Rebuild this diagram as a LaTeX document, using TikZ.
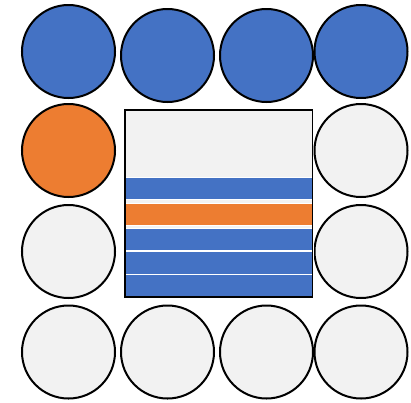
\documentclass[tikz,border=0pt]{standalone}
\usepackage{tikz}
\definecolor{cblue}{HTML}{4472C4}
\definecolor{corange}{HTML}{ED7D31}
\definecolor{cgrey}{HTML}{F2F2F2}

\begin{document}
\begin{tikzpicture}[x=1pt,y=-1pt,
  ball/.style={circle,draw=black,line width=2pt,minimum size=93pt,inner sep=0pt},
  blueball/.style={ball,fill=cblue},
  orangeball/.style={ball,fill=corange},
  greyball/.style={ball,fill=cgrey},
  stripe/.style={draw=white,line width=0.8pt}]
\useasboundingbox (0,0) rectangle (411,402);
% top row
\node[blueball] (t1) at (68.5,51.5) {};
\node[blueball] (t2) at (167.5,55.5) {};
\node[blueball] (t3) at (266.5,55.5) {};
\node[blueball] (t4) at (361,51.5) {};
% sides
\node[orangeball] (l1) at (68.5,150.5) {};
\node[greyball] (l2) at (68.5,251.5) {};
\node[greyball] (r1) at (361,150.5) {};
\node[greyball] (r2) at (361,251.5) {};
% bottom row
\node[greyball] (b1) at (68.5,352) {};
\node[greyball] (b2) at (167.5,352) {};
\node[greyball] (b3) at (266.5,352) {};
\node[greyball] (b4) at (361,352) {};
% box with layers
\fill[cgrey] (125,110) rectangle (312.5,297);
\fill[cblue,stripe] (125.5,177) rectangle (313,199.5);
\fill[corange,stripe] (125.5,203) rectangle (313,225.5);
\fill[cblue,stripe] (125.5,228) rectangle (313,250.5);
\fill[cblue,stripe] (125.5,251.5) rectangle (313,274);
\fill[cblue,stripe] (125.5,274.5) rectangle (313,296.5);
\draw[line width=1.8pt] (125,110) rectangle (312.5,297);
\end{tikzpicture}
\end{document}
